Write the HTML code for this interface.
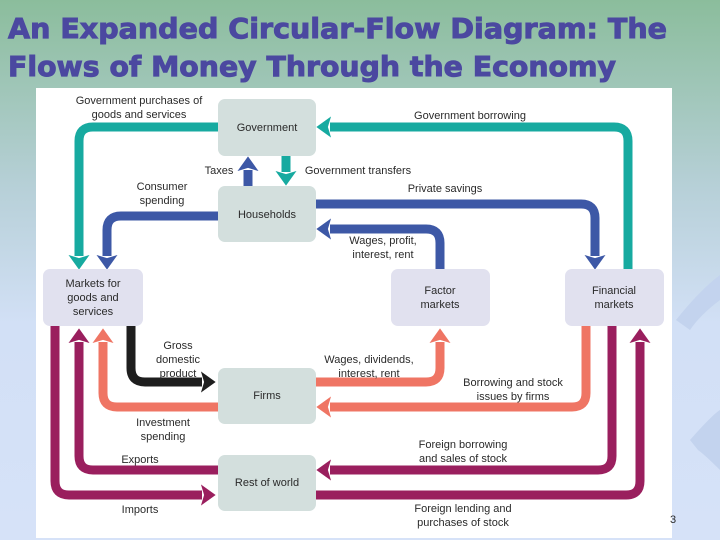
<!DOCTYPE html>
<html><head><meta charset="utf-8"><style>
html,body{margin:0;padding:0;width:720px;height:540px;overflow:hidden}
text{font-family:"Liberation Sans",sans-serif}
</style></head><body>
<svg width="720" height="540" viewBox="0 0 720 540" xmlns="http://www.w3.org/2000/svg">
<defs>
<linearGradient id="bg" x1="0" y1="0" x2="0" y2="1">
<stop offset="0" stop-color="#8bbd9c"/><stop offset="0.35" stop-color="#b7d0d8"/><stop offset="0.6" stop-color="#d2e0f6"/><stop offset="1" stop-color="#d6e2f8"/></linearGradient>
<marker id="mt" viewBox="0 0 14 20" markerWidth="15" markerHeight="21" refX="1" refY="10" orient="auto" markerUnits="userSpaceOnUse"><path d="M0,0 L14,10 L0,20 L3,10 Z" fill="#17aaa0"/></marker>
<marker id="mb" viewBox="0 0 14 20" markerWidth="15" markerHeight="21" refX="1" refY="10" orient="auto" markerUnits="userSpaceOnUse"><path d="M0,0 L14,10 L0,20 L3,10 Z" fill="#3d58a6"/></marker>
<marker id="mk" viewBox="0 0 14 20" markerWidth="15" markerHeight="21" refX="1" refY="10" orient="auto" markerUnits="userSpaceOnUse"><path d="M0,0 L14,10 L0,20 L3,10 Z" fill="#1e1e1e"/></marker>
<marker id="ms" viewBox="0 0 14 20" markerWidth="15" markerHeight="21" refX="1" refY="10" orient="auto" markerUnits="userSpaceOnUse"><path d="M0,0 L14,10 L0,20 L3,10 Z" fill="#ef7564"/></marker>
<marker id="mp" viewBox="0 0 14 20" markerWidth="15" markerHeight="21" refX="1" refY="10" orient="auto" markerUnits="userSpaceOnUse"><path d="M0,0 L14,10 L0,20 L3,10 Z" fill="#9a1f5e"/></marker>
</defs>
<rect width="720" height="540" fill="url(#bg)"/>
<path d="M676,320 Q700,290 720,275 L720,300 Q700,315 690,330 Z" fill="#c3d3ee"/>
<path d="M690,440 Q712,415 720,410 L720,470 Q705,455 698,450 Z" fill="#c3d3ee"/>
<text x="8" y="38" font-size="28" font-weight="bold" fill="#4b48a0" stroke="#4b48a0" stroke-width="1" textLength="659" lengthAdjust="spacingAndGlyphs" style="font-family:'DejaVu Sans',sans-serif">An Expanded Circular-Flow Diagram: The</text>
<text x="8" y="76" font-size="28" font-weight="bold" fill="#4b48a0" stroke="#4b48a0" stroke-width="1" textLength="608" lengthAdjust="spacingAndGlyphs" style="font-family:'DejaVu Sans',sans-serif">Flows of Money Through the Economy</text>
<rect x="36" y="88" width="636" height="450" fill="#fff"/>
<g fill="none" stroke-width="9">
<path d="M218,127 H93 Q79,127 79,141 V256" stroke="#17aaa0" marker-end="url(#mt)"/>
<path d="M628,269 V141 Q628,127 614,127 H330" stroke="#17aaa0" marker-end="url(#mt)"/>
<path d="M286,156 V172" stroke="#17aaa0" marker-end="url(#mt)"/>
<path d="M248,186 V170" stroke="#3d58a6" marker-end="url(#mb)"/>
<path d="M218,216 H121 Q107,216 107,230 V256" stroke="#3d58a6" marker-end="url(#mb)"/>
<path d="M316,204 H581 Q595,204 595,218 V256" stroke="#3d58a6" marker-end="url(#mb)"/>
<path d="M440,269 V243 Q440,229 426,229 H330" stroke="#3d58a6" marker-end="url(#mb)"/>
<path d="M131,326 V368 Q131,382 145,382 H202" stroke="#1e1e1e" marker-end="url(#mk)"/>
<path d="M316,382 H426 Q440,382 440,368 V342" stroke="#ef7564" marker-end="url(#ms)"/>
<path d="M218,407 H117 Q103,407 103,393 V342" stroke="#ef7564" marker-end="url(#ms)"/>
<path d="M586,326 V393 Q586,407 572,407 H330" stroke="#ef7564" marker-end="url(#ms)"/>
<path d="M218,470 H93 Q79,470 79,456 V342" stroke="#9a1f5e" marker-end="url(#mp)"/>
<path d="M55,326 V481 Q55,495 69,495 H202" stroke="#9a1f5e" marker-end="url(#mp)"/>
<path d="M612,326 V456 Q612,470 598,470 H330" stroke="#9a1f5e" marker-end="url(#mp)"/>
<path d="M316,495 H626 Q640,495 640,481 V342" stroke="#9a1f5e" marker-end="url(#mp)"/>
</g>
<g fill="#d3dfdd">
<rect x="218" y="99" width="98" height="57" rx="7"/>
<rect x="218" y="186" width="98" height="56" rx="7"/>
<rect x="218" y="368" width="98" height="56" rx="7"/>
<rect x="218" y="455" width="98" height="56" rx="7"/>
</g>
<g fill="#e1e1ef">
<rect x="43" y="269" width="100" height="57" rx="7"/>
<rect x="391" y="269" width="99" height="57" rx="7"/>
<rect x="565" y="269" width="99" height="57" rx="7"/>
</g>
<g font-size="11" fill="#2a2a2a" text-anchor="middle">
<text x="267" y="131">Government</text>
<text x="267" y="218">Households</text>
<text x="93" y="287">Markets for</text><text x="93" y="301">goods and</text><text x="93" y="315">services</text>
<text x="440" y="294">Factor</text><text x="440" y="308">markets</text>
<text x="614" y="294">Financial</text><text x="614" y="308">markets</text>
<text x="267" y="399">Firms</text>
<text x="267" y="486">Rest of world</text>
<text x="139" y="104">Government purchases of</text><text x="139" y="118">goods and services</text>
<text x="470" y="119">Government borrowing</text>
<text x="219" y="174">Taxes</text>
<text x="358" y="174">Government transfers</text>
<text x="162" y="190">Consumer</text><text x="162" y="204">spending</text>
<text x="445" y="192">Private savings</text>
<text x="383" y="244">Wages, profit,</text><text x="383" y="258">interest, rent</text>
<text x="178" y="349">Gross</text><text x="178" y="363">domestic</text><text x="178" y="377">product</text>
<text x="369" y="363">Wages, dividends,</text><text x="369" y="377">interest, rent</text>
<text x="513" y="386">Borrowing and stock</text><text x="513" y="400">issues by firms</text>
<text x="163" y="426">Investment</text><text x="163" y="440">spending</text>
<text x="140" y="463">Exports</text>
<text x="463" y="448">Foreign borrowing</text><text x="463" y="462">and sales of stock</text>
<text x="140" y="513">Imports</text>
<text x="463" y="512">Foreign lending and</text><text x="463" y="526">purchases of stock</text>
<text x="673" y="523">3</text>
</g>
</svg>
</body></html>
